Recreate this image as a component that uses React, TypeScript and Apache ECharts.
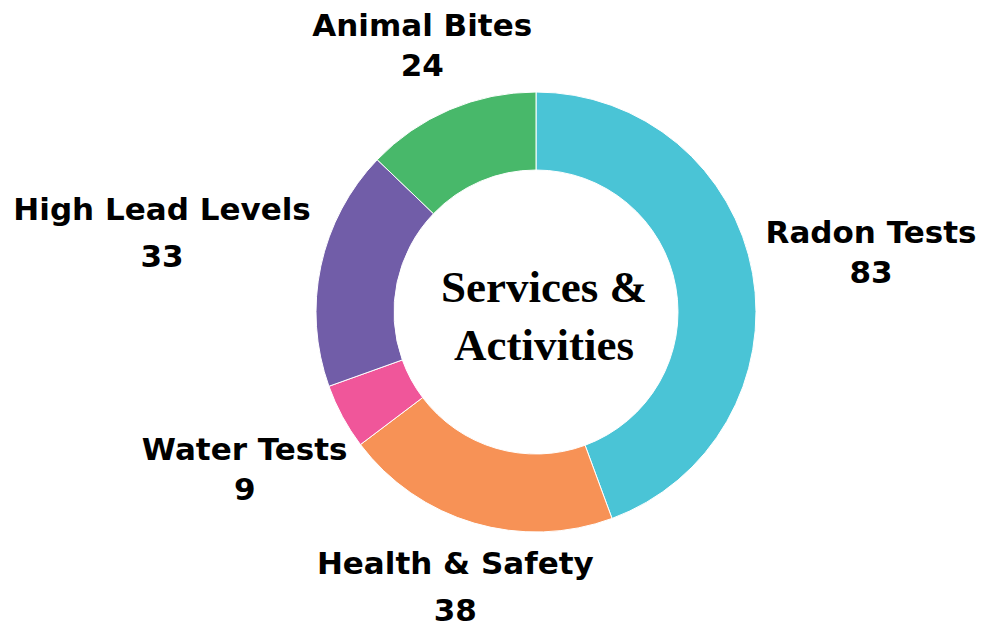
import React, { useEffect, useRef } from "react";
import * as echarts from "echarts";

const categories = ["Radon Tests", "Health & Safety", "Water Tests", "High Lead Levels", "Animal Bites"];
const values = [83, 38, 9, 33, 24];
const colors = ["#4AC4D6", "#F79256", "#F0569A", "#715DA8", "#48B86A"];
const titleLines = ["Services &", "Activities"];

const CX = 536;
const CY = 312;
const R_IN = 142;
const R_OUT = 220;

export default function App() {
  const ref = useRef<HTMLDivElement>(null);
  useEffect(() => {
    if (!ref.current) return;
    const chart = echarts.init(ref.current, null, { renderer: "svg" });
    const total = values.reduce((a, b) => a + b, 0);
    const mids: number[] = [];
    let acc = 0;
    values.forEach((v) => {
      const span = (v / total) * Math.PI * 2;
      mids.push(acc + span / 2);
      acc += span;
    });
    const wideGap = [false, true, false, true, false];
    const font = "DejaVu Sans";
    chart.setOption({
      animation: false,
      backgroundColor: "#ffffff",
      title: {
        text: titleLines.join("\n"),
        left: CX + 3,
        top: CY - 1,
        textAlign: "center",
        textVerticalAlign: "middle",
        textStyle: {
          fontFamily: "Liberation Serif",
          fontWeight: "bold",
          fontSize: 45,
          lineHeight: 58,
          color: "#000000",
        },
      },
      series: [
        {
          type: "pie",
          center: [CX, CY],
          radius: [R_IN, R_OUT],
          startAngle: 90,
          clockwise: true,
          avoidLabelOverlap: false,
          itemStyle: { borderColor: "#ffffff", borderWidth: 1 },
          labelLine: { show: false },
          data: categories.map((name, i) => ({
            name,
            value: values[i],
            itemStyle: { color: colors[i] },
            label: {
              rich: {
                n: { lineHeight: wideGap[i] ? 47 : 40 },
                v: { lineHeight: wideGap[i] ? 47 : 40 },
              },
            },
          })),
          label: {
            show: true,
            position: "outside",
            formatter: "{n|{b}}\n{v|{c}}",
            align: "center",
            rich: {
              n: { fontFamily: font, fontWeight: "bold", fontSize: 31, color: "#000", align: "center", lineHeight: 40 },
              v: { fontFamily: font, fontWeight: "bold", fontSize: 31, color: "#000", align: "center", lineHeight: 40 },
            },
          },
          labelLayout: (params: any) => {
            const i = params.dataIndex;
            const a = mids[i];
            const ux = Math.sin(a);
            const uy = -Math.cos(a);
            const w = params.labelRect.width;
            const d = R_OUT + 14 + Math.abs(ux) * (w / 2) + Math.abs(uy) * 14;
            return {
              x: CX + ux * d,
              y: CY + uy * d,
              align: "center",
              verticalAlign: "middle",
            };
          },
        },
      ],
    });
    return () => chart.dispose();
  }, []);
  return (
    <div
      ref={ref}
      style={{ position: "absolute", left: 0, top: 0, width: 1000, height: 628 }}
    />
  );
}
